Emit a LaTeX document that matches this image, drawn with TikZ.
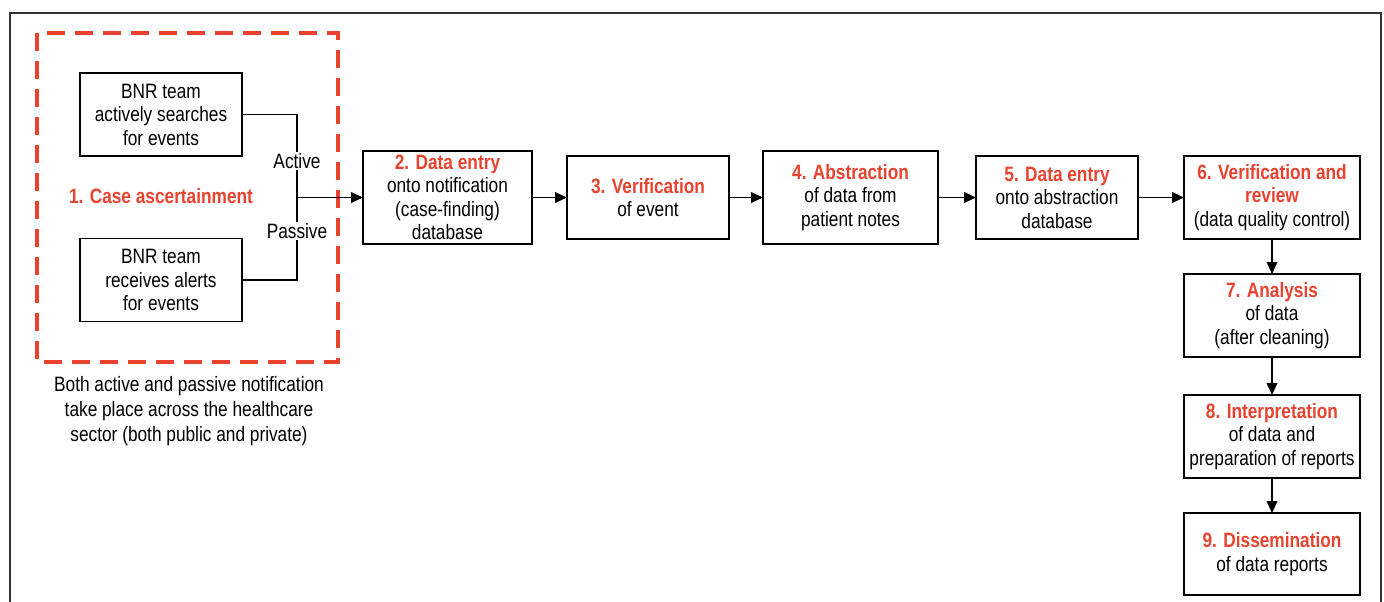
\documentclass[tikz,border=0pt]{standalone}
\usepackage{fontspec}
\setmainfont[FakeStretch=0.83]{Liberation Sans}
\usetikzlibrary{arrows.meta,positioning}
\definecolor{bnrred}{RGB}{233,66,46}
\newcommand{\head}[1]{{\bfseries\color{bnrred}#1}}

\begin{document}
\begin{tikzpicture}[x=0.75pt,y=-0.75pt,->,>={Triangle[length=9pt,width=8pt]},line width=1.3pt,
                    font=\fontsize{15.6}{17.6}\selectfont,
                    stepbox/.style={rectangle, minimum width=121.5pt, minimum height=62.25pt, inner sep=1pt, outer sep=0pt, align=center, text centered, draw=black},
                    teambox/.style={stepbox},
                    tagg/.style={fill=white, inner sep=1pt}]
        \useasboundingbox (0,0) rectangle (1384,601);
        \draw[-, line width=2pt, black!80] (10,605) -- (10,13) -- (1381,13) -- (1381,605);
        \draw[-, bnrred, line width=2.6pt, dash pattern=on 13.5pt off 7.5pt] (37,33) rectangle (338,362);

        \node (SearchTeam) [teambox] at (161,114.5) {BNR team\\actively searches\\for events};
        \node (AlertTeam) [teambox] at (161,280) {BNR team\\receives alerts\\for events};
        \node (Ascertain) at (161,196) {\head{1. Case ascertainment}};
        \node (Note) [align=center, font=\fontsize{15.6}{18.8}\selectfont] at (189,411) {Both active and passive notification\\take place across the healthcare\\sector (both public and private)};
        \coordinate (Join) at (297,197.5);

        \node (NotifEntry) [stepbox, minimum width=126.75pt, minimum height=69.75pt] at (447.5,197.5) {\head{2. Data entry}\\onto notification\\(case-finding)\\database};
        \node (Verify) [stepbox, right=26.25pt of NotifEntry] {\head{3. Verification}\\of event};
        \node (Abstract) [stepbox, minimum width=131.25pt, minimum height=69.75pt, right=25.5pt of Verify] {\head{4. Abstraction}\\of data from\\patient notes};
        \node (AbstrEntry) [stepbox, right=28.5pt of Abstract] {\head{5. Data entry}\\onto abstraction\\database};
        \node (Review) [stepbox, minimum width=132pt, right=34.5pt of AbstrEntry] {\head{6. Verification and}\\\head{review}\\(data quality control)};
        \node (Analysis) [stepbox, minimum width=132pt, below=26.25pt of Review] {\head{7. Analysis}\\of data\\(after cleaning)};
        \node (Interpret) [stepbox, minimum width=132pt, below=28.5pt of Analysis] {\head{8. Interpretation}\\of data and\\preparation of reports};
        \node (Dissem) [stepbox, minimum width=132pt, minimum height=61.5pt, below=26.25pt of Interpret] {\head{9. Dissemination}\\of data reports};

        \draw[-] (SearchTeam.east) -| (Join);
        \draw[-] (AlertTeam.east) -| (Join);
        \node (Active) [tagg] at (297,161) {Active};
        \node (Passive) [tagg] at (297,231) {Passive};

        \path
        (Join)
            edge (NotifEntry)
        (NotifEntry)
            edge (Verify)
        (Verify)
            edge (Abstract)
        (Abstract)
            edge (AbstrEntry)
        (AbstrEntry)
            edge (Review)
        (Review)
            edge (Analysis)
        (Analysis)
            edge (Interpret)
        (Interpret)
            edge (Dissem)
        ;
\end{tikzpicture}
\end{document}
